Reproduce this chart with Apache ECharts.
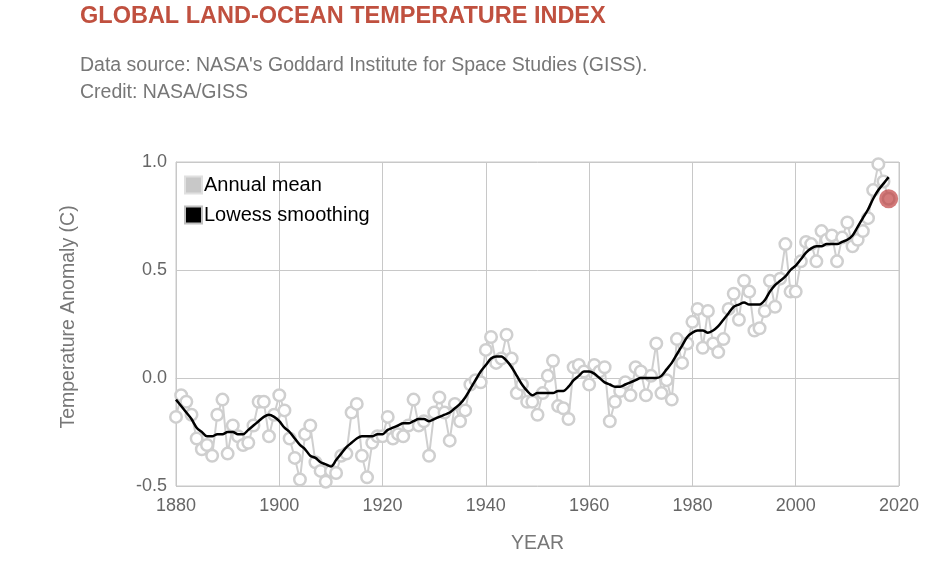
<!DOCTYPE html>
<html>
<head>
<meta charset="utf-8">
<script src="https://cdn.jsdelivr.net/npm/echarts@6/dist/echarts.min.js"></script>
<style>
html,body{margin:0;padding:0;background:#fff;}
#chart{width:930px;height:575px;}
</style>
</head>
<body>
<div id="chart"></div>
<script>
const titleText = "GLOBAL LAND-OCEAN TEMPERATURE INDEX";
const subtitleLines = ["Data source: NASA's Goddard Institute for Space Studies (GISS).", "Credit: NASA/GISS"];
const seriesNames = ["Annual mean", "Lowess smoothing"];
const xTicks = [1880, 1900, 1920, 1940, 1960, 1980, 2000, 2020];
const yTicks = [-0.5, 0.0, 0.5, 1.0];
const firstYear = 1880;
const annualMean = [
 -0.18,-0.08,-0.11,-0.17,-0.28,-0.33,-0.31,-0.36,-0.17,-0.10,
 -0.35,-0.22,-0.27,-0.31,-0.30,-0.22,-0.11,-0.11,-0.27,-0.17,
 -0.08,-0.15,-0.28,-0.37,-0.47,-0.26,-0.22,-0.39,-0.43,-0.48,
 -0.43,-0.44,-0.36,-0.35,-0.16,-0.12,-0.36,-0.46,-0.30,-0.27,
 -0.27,-0.18,-0.28,-0.26,-0.27,-0.22,-0.10,-0.22,-0.20,-0.36,
 -0.16,-0.09,-0.16,-0.29,-0.12,-0.20,-0.15,-0.03,-0.01,-0.02,
  0.13, 0.19, 0.07, 0.09, 0.20, 0.09,-0.07,-0.03,-0.11,-0.11,
 -0.17,-0.07, 0.01, 0.08,-0.13,-0.14,-0.19, 0.05, 0.06, 0.03,
 -0.03, 0.06, 0.03, 0.05,-0.20,-0.11,-0.06,-0.02,-0.08, 0.05,
  0.03,-0.08, 0.01, 0.16,-0.07,-0.01,-0.10, 0.18, 0.07, 0.16,
  0.26, 0.32, 0.14, 0.31, 0.16, 0.12, 0.18, 0.32, 0.39, 0.27,
  0.45, 0.40, 0.22, 0.23, 0.31, 0.45, 0.33, 0.46, 0.62, 0.40,
  0.40, 0.54, 0.63, 0.62, 0.54, 0.68, 0.64, 0.66, 0.54, 0.65,
  0.72, 0.61, 0.64, 0.68, 0.74, 0.87, 0.99, 0.91, 0.83
];
const lowess = [
 -0.10,-0.13,-0.16,-0.19,-0.23,-0.25,-0.27,-0.27,-0.26,-0.26,
 -0.25,-0.25,-0.26,-0.26,-0.24,-0.22,-0.20,-0.18,-0.17,-0.18,
 -0.20,-0.23,-0.25,-0.28,-0.31,-0.33,-0.36,-0.37,-0.39,-0.40,
 -0.41,-0.38,-0.35,-0.32,-0.30,-0.28,-0.27,-0.27,-0.27,-0.26,
 -0.26,-0.24,-0.23,-0.22,-0.21,-0.21,-0.20,-0.19,-0.19,-0.20,
 -0.19,-0.18,-0.17,-0.16,-0.14,-0.12,-0.09,-0.05,-0.01, 0.03,
  0.06, 0.09, 0.10, 0.10, 0.08, 0.05, 0.01,-0.03,-0.06,-0.08,
 -0.07,-0.07,-0.07,-0.07,-0.06,-0.06,-0.04,-0.01, 0.01, 0.03,
  0.03, 0.02, 0.00,-0.02,-0.03,-0.04,-0.04,-0.03,-0.02,-0.01,
  0.00, 0.00, 0.00, 0.00, 0.01, 0.04, 0.07, 0.11, 0.15, 0.19,
  0.21, 0.22, 0.22, 0.21, 0.22, 0.24, 0.27, 0.30, 0.33, 0.34,
  0.35, 0.34, 0.34, 0.34, 0.36, 0.40, 0.43, 0.45, 0.47, 0.50,
  0.52, 0.55, 0.58, 0.60, 0.61, 0.61, 0.62, 0.62, 0.62, 0.63,
  0.64, 0.66, 0.70, 0.74, 0.78, 0.83, 0.87, 0.90, 0.93
];
const highlightYear = 2018;
const highlightValue = 0.83;

const annualData = annualMean.map((v, i) => [firstYear + i, v]);
const lowessData = lowess.map((v, i) => [firstYear + i, v]);

const chart = echarts.init(document.getElementById('chart'));
const FONT = '"Liberation Sans", Arial, sans-serif';
chart.setOption({
  animation: false,
  textStyle: { fontFamily: FONT },
  title: [
    { text: titleText, left: 75, top: 0,
      textStyle: { color: '#c0503f', fontSize: 23.5, fontWeight: 'bold', fontFamily: FONT } },
    { text: subtitleLines.join('\n'), left: 75, top: 47,
      textStyle: { color: '#777', fontSize: 19.5, fontWeight: 'normal', lineHeight: 27, fontFamily: FONT } }
  ],
  legend: {
    orient: 'vertical', left: 179, top: 170, itemGap: 10,
    itemWidth: 17, itemHeight: 17,
    textStyle: { color: '#000', fontSize: 20, fontFamily: FONT, padding: [0, 0, 0, -3] },
    data: [
      { name: seriesNames[0], icon: 'rect', itemStyle: { color: '#c8c8c8', borderColor: '#e0e0e0', borderWidth: 2 } },
      { name: seriesNames[1], icon: 'rect', itemStyle: { color: '#000', borderColor: '#c0c0c0', borderWidth: 2 } }
    ]
  },
  grid: { left: 176, right: 31, top: 162, bottom: 89, show: true, borderColor: '#c8c8c8', borderWidth: 1 },
  xAxis: {
    type: 'value', min: xTicks[0], max: xTicks[xTicks.length - 1], interval: 20,
    name: 'YEAR', nameLocation: 'middle', nameGap: 48,
    nameTextStyle: { color: '#777', fontSize: 19.5, fontFamily: FONT },
    axisLine: { show: true, lineStyle: { color: '#c8c8c8' } },
    axisTick: { show: false },
    axisLabel: { color: '#666', fontSize: 18, margin: 11, fontFamily: FONT,
      formatter: v => String(v) },
    splitLine: { show: true, lineStyle: { color: '#c8c8c8', width: 1 } }
  },
  yAxis: {
    type: 'value', min: yTicks[0], max: yTicks[yTicks.length - 1], interval: 0.5,
    name: 'Temperature Anomaly (C)', nameLocation: 'middle', nameGap: 97, nameRotate: 90,
    nameTextStyle: { color: '#777', fontSize: 19.5, fontFamily: FONT, padding: [0, 0, 0, 14] },
    axisLine: { show: true, lineStyle: { color: '#c8c8c8' } },
    axisTick: { show: false },
    axisLabel: { color: '#666', fontSize: 18, margin: 9, fontFamily: FONT,
      formatter: v => v.toFixed(1) },
    splitLine: { show: true, lineStyle: { color: '#c8c8c8', width: 1 } }
  },
  series: [
    { name: seriesNames[0], type: 'line', data: annualData, z: 2,
      lineStyle: { color: '#cfcfcf', width: 2 },
      symbol: 'circle', symbolSize: 11.5, showAllSymbol: true,
      itemStyle: { color: '#fff', borderColor: '#cfcfcf', borderWidth: 2.5 } },
    { name: seriesNames[1], type: 'line', data: lowessData, z: 3, smooth: 0.3,
      lineStyle: { color: '#000', width: 2.5 }, symbol: 'none', itemStyle: { color: '#000' } },
    { name: 'highlight', type: 'scatter', data: [[highlightYear, highlightValue]], z: 4,
      symbolSize: 19, itemStyle: { color: 'rgba(190,60,60,0.85)' } }
  ]
});
</script>
</body>
</html>
